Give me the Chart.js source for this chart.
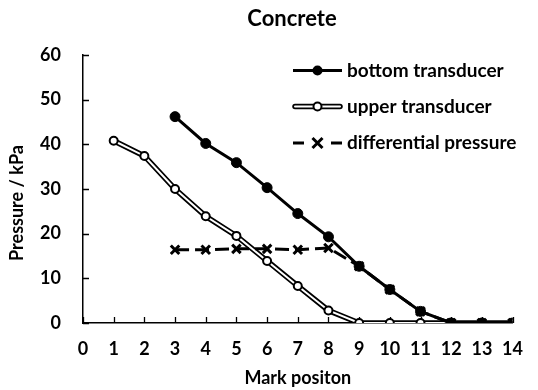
<!DOCTYPE html>
<html>
<head>
<meta charset="utf-8">
<script src="https://cdn.jsdelivr.net/npm/chart.js@4/dist/chart.umd.min.js"></script>
<style>
  html, body { margin: 0; padding: 0; background: #fff; }
  #wrap { width: 538px; height: 390px; position: relative; }
</style>
</head>
<body>
<div id="wrap"><canvas id="c" width="538" height="390"></canvas></div>
<script>
// ---- data ----
const chartTitle = 'Concrete';
const xAxisTitle = 'Mark positon';
const yAxisTitle = 'Pressure / kPa';
const positions = [1, 2, 3, 4, 5, 6, 7, 8, 9, 10, 11, 12, 13, 14];
const bottomTransducer = [null, null, 46.2, 40.2, 35.9, 30.3, 24.5, 19.3, 12.7, 7.5, 2.6, 0, 0, 0];
const upperTransducer = [40.8, 37.4, 30.0, 23.9, 19.5, 13.9, 8.3, 2.8, 0, 0, 0, 0, 0, 0];
const differentialPressure = [null, null, 16.4, 16.4, 16.6, 16.6, 16.4, 16.8, 12.7, 7.5, 2.6, 0, 0, 0];
const seriesNames = ['bottom transducer', 'upper transducer', 'differential pressure'];
const xTicks = [0, 1, 2, 3, 4, 5, 6, 7, 8, 9, 10, 11, 12, 13, 14];
const yTicks = [0, 10, 20, 30, 40, 50, 60];

const FONT = 'Lato, "DejaVu Sans", sans-serif';
const pts = arr => positions.map((x, i) => ({ x: x, y: arr[i] }));

// inward tick marks
const innerTicks = {
  id: 'innerTicks',
  beforeDatasetsDraw(chart) {
    const { ctx, chartArea, scales } = chart;
    ctx.save();
    ctx.strokeStyle = '#000';
    ctx.lineWidth = 1.3;
    ctx.beginPath();
    xTicks.forEach(v => {
      const px = Math.round(scales.x.getPixelForValue(v)) + 0.5;
      ctx.moveTo(px, chartArea.bottom);
      ctx.lineTo(px, chartArea.bottom - 6);
    });
    yTicks.forEach(v => {
      const py = Math.round(scales.y.getPixelForValue(v)) + 0.5;
      ctx.moveTo(chartArea.left, py);
      ctx.lineTo(chartArea.left + 6, py);
    });
    ctx.stroke();
    ctx.restore();
  }
};

// chart title and y-axis title
const titlePlugin = {
  id: 'titleText',
  afterDraw(chart) {
    const { ctx } = chart;
    ctx.save();
    ctx.fillStyle = '#000';
    ctx.font = 'bold 22px ' + FONT;
    ctx.textAlign = 'center';
    ctx.textBaseline = 'middle';
    ctx.fillText(chartTitle, 292, 19);
    ctx.translate(17, 203);
    ctx.rotate(-Math.PI / 2);
    ctx.font = 'bold 18px ' + FONT;
    ctx.fillText(yAxisTitle, 0, 0);
    ctx.restore();
  }
};

// legend drawn inside plot
const legendPlugin = {
  id: 'innerLegend',
  afterDraw(chart) {
    const { ctx } = chart;
    const x0 = 293, x1 = 342, xm = 317.5, tx = 347;
    const ys = [70.5, 106.5, 143];
    ctx.save();
    // bottom transducer
    ctx.strokeStyle = '#000';
    ctx.lineWidth = 3;
    ctx.beginPath(); ctx.moveTo(x0, ys[0]); ctx.lineTo(x1, ys[0]); ctx.stroke();
    ctx.fillStyle = '#000';
    ctx.beginPath(); ctx.arc(xm, ys[0], 5, 0, Math.PI * 2); ctx.fill();
    // upper transducer
    ctx.lineCap = 'round';
    ctx.lineWidth = 5.5;
    ctx.strokeStyle = '#000';
    ctx.beginPath(); ctx.moveTo(x0 + 2, ys[1]); ctx.lineTo(x1 - 2, ys[1]); ctx.stroke();
    ctx.lineWidth = 2;
    ctx.strokeStyle = '#fff';
    ctx.beginPath(); ctx.moveTo(x0 + 2, ys[1]); ctx.lineTo(x1 - 2, ys[1]); ctx.stroke();
    ctx.lineCap = 'butt';
    ctx.fillStyle = '#fff';
    ctx.strokeStyle = '#000';
    ctx.lineWidth = 2;
    ctx.beginPath(); ctx.arc(xm, ys[1], 4, 0, Math.PI * 2); ctx.fill(); ctx.stroke();
    // differential
    ctx.lineWidth = 3;
    ctx.beginPath(); ctx.moveTo(x0, ys[2]); ctx.lineTo(x0 + 11, ys[2]);
    ctx.moveTo(x1 - 11, ys[2]); ctx.lineTo(x1, ys[2]); ctx.stroke();
    const r = 5;
    ctx.beginPath();
    ctx.moveTo(xm - r, ys[2] - r); ctx.lineTo(xm + r, ys[2] + r);
    ctx.moveTo(xm + r, ys[2] - r); ctx.lineTo(xm - r, ys[2] + r);
    ctx.stroke();
    // text
    ctx.fillStyle = '#000';
    ctx.font = 'bold 19px ' + FONT;
    ctx.textAlign = 'left';
    ctx.textBaseline = 'middle';
    seriesNames.forEach((n, i) => ctx.fillText(n, tx, ys[i]));
    ctx.restore();
  }
};

new Chart(document.getElementById('c'), {
  type: 'line',
  data: {
    datasets: [
      {
        label: seriesNames[2],
        data: pts(differentialPressure),
        borderColor: '#000',
        borderWidth: 3,
        borderDash: [14, 6],
        pointStyle: 'crossRot',
        pointRadius: 6,
        pointBorderWidth: 3,
        pointBorderColor: '#000',
        fill: false,
        order: 0
      },
      {
        label: seriesNames[0],
        data: pts(bottomTransducer),
        borderColor: '#000',
        backgroundColor: '#000',
        borderWidth: 3,
        pointStyle: 'circle',
        pointRadius: 5,
        pointBackgroundColor: '#000',
        pointBorderColor: '#000',
        pointBorderWidth: 1,
        fill: false,
        order: 1
      },
      {
        label: seriesNames[1],
        data: pts(upperTransducer),
        borderColor: '#fff',
        borderWidth: 2,
        pointStyle: 'circle',
        pointRadius: 4,
        pointBackgroundColor: '#fff',
        pointBorderColor: '#000',
        pointBorderWidth: 2,
        fill: false,
        order: 2
      },
      {
        label: seriesNames[1] + ' outline',
        data: pts(upperTransducer),
        borderColor: '#000',
        borderWidth: 5.5,
        pointRadius: 0,
        fill: false,
        order: 3
      }
    ]
  },
  options: {
    responsive: false,
    animation: false,
    events: [],
    layout: { padding: { top: 55, right: 11, left: 0, bottom: 0 } },
    plugins: {
      legend: { display: false },
      title: { display: false },
      tooltip: { enabled: false }
    },
    scales: {
      x: {
        type: 'linear',
        min: 0, max: 14,
        afterFit(s) { s.height = 67; },
        afterBuildTicks(s) { s.ticks = xTicks.map(v => ({ value: v })); },
        grid: { display: true, drawOnChartArea: false, drawTicks: false },
        border: { display: true, color: '#000', width: 1.5 },
        ticks: { color: '#000', font: { family: FONT, size: 18, weight: 'bold' }, padding: 15, maxRotation: 0, autoSkip: false },
        title: { display: true, text: xAxisTitle, color: '#000', font: { family: FONT, size: 18, weight: 'bold' }, padding: { top: 0, bottom: 1 } }
      },
      y: {
        min: 0, max: 60,
        afterFit(s) { s.width = 83; },
        afterBuildTicks(s) { s.ticks = yTicks.map(v => ({ value: v })); },
        grid: { display: true, drawOnChartArea: false, drawTicks: false },
        border: { display: true, color: '#000', width: 1.5 },
        ticks: { color: '#000', font: { family: FONT, size: 18, weight: 'bold' }, padding: 22 },
        title: { display: false }
      }
    }
  },
  plugins: [innerTicks, titlePlugin, legendPlugin]
});
</script>
</body>
</html>
